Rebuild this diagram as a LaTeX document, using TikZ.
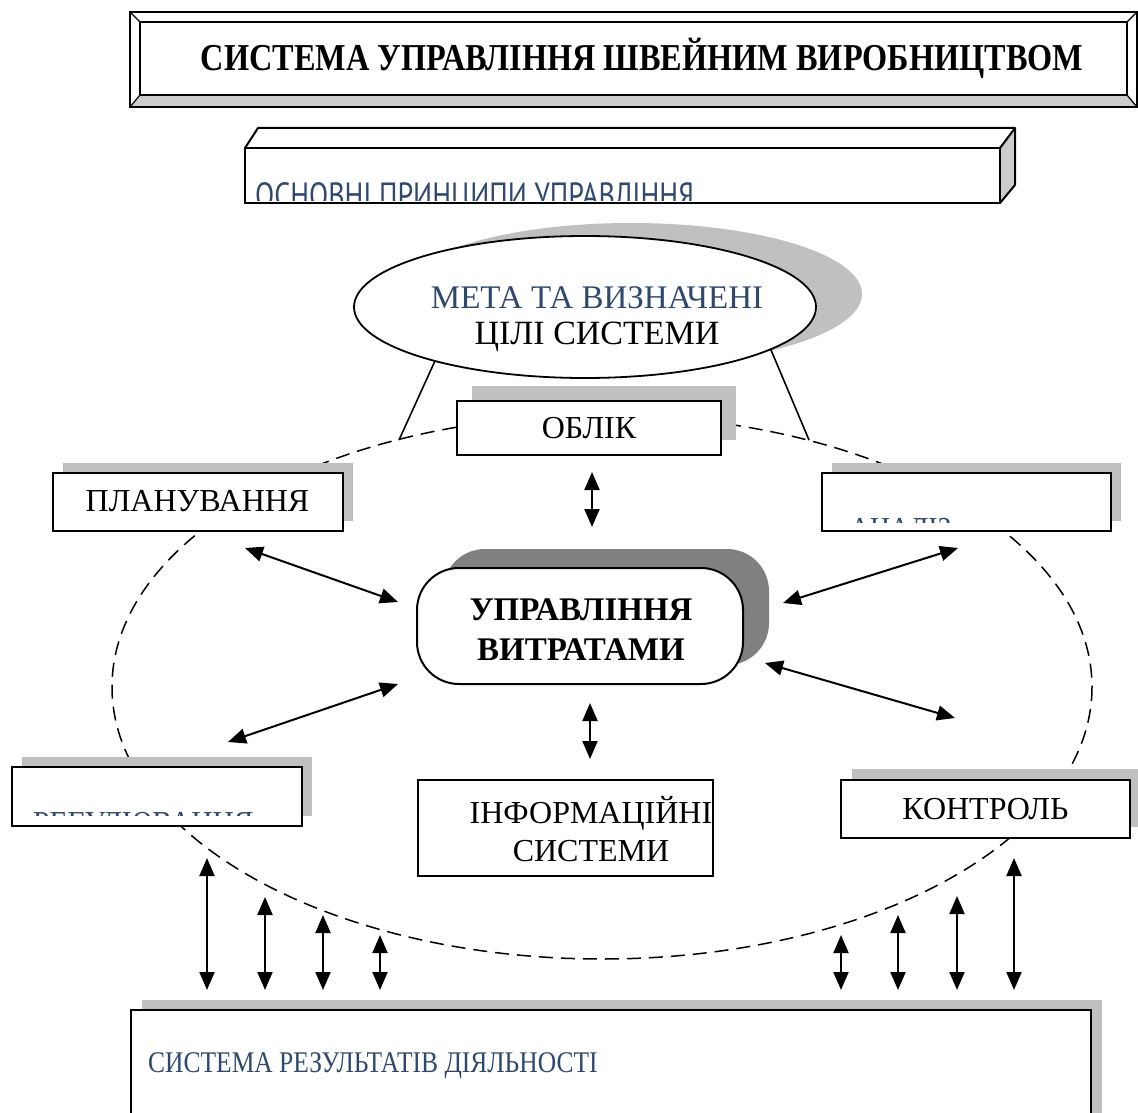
\documentclass[tikz,border=0pt]{standalone}
\usepackage{fontspec}
\usepackage{graphicx}
\setmainfont{Liberation Serif}
\newfontfamily\headsans{PT Sans}
\usetikzlibrary{arrows.meta,shapes.geometric,shadows}

\definecolor{headblue}{RGB}{46,72,110}
\definecolor{shadelight}{RGB}{192,192,192}
\definecolor{shadedark}{RGB}{128,128,128}
\definecolor{bevelgray}{RGB}{204,204,204}

\begin{document}
\begin{tikzpicture}[x=1pt,y=-1pt,
  big/.style={font=\fontsize{32pt}{38pt}\selectfont},
  boxed/.style={draw, line width=2pt, fill=white, inner sep=0pt, big, align=center},
  graybehind/.style={drop shadow={shadow xshift=#1, shadow yshift=#1, fill=shadelight, opacity=1}},
  dbl/.style={{Triangle[length=18pt,width=15pt]}-{Triangle[length=18pt,width=15pt]}, line width=2pt},
  orbit/.style={dash pattern=on 14pt off 8pt, line width=1.5pt},
  tie/.style={line width=1.6pt}
]
\useasboundingbox (0,0) rectangle (1138,1113);
\fill[white] (0,0) rectangle (1138,1113);

% ---- bevelled title frame ----
\coordinate (toTL) at (130,12);  \coordinate (toBR) at (1137,107);
\coordinate (tiTL) at (140,22);  \coordinate (tiBR) at (1127,95);
\fill[bevelgray] (130,107) -- (140,95) -- (1127,95) -- (1137,107) -- cycle;
\draw[line width=1.6pt] (toTL) rectangle (toBR);
\draw[line width=1.6pt] (tiTL) rectangle (tiBR);
\draw[line width=1.2pt] (130,12) -- (140,22) (1137,12) -- (1127,22)
      (130,107) -- (140,95) (1137,107) -- (1127,95);
\node[font=\fontsize{38pt}{42pt}\selectfont\bfseries, inner sep=0pt] (title) at (642,58)
  {\scalebox{0.85}[1]{СИСТЕМА УПРАВЛІННЯ ШВЕЙНИМ ВИРОБНИЦТВОМ}};

% ---- principles block (a flat cuboid) ----
\fill[white] (245,148) -- (258,128) -- (1015,128) -- (1000,148) -- cycle;
\fill[bevelgray] (1000,148) -- (1015,128) -- (1015,185) -- (1000,203) -- cycle;
\draw[line width=2pt, line join=round]
  (245,148) -- (258,128) -- (1015,128) -- (1015,185) -- (1000,203)
  (1000,148) -- (1015,128);
\draw[line width=2pt, fill=white] (245,148) rectangle (1000,203);
\begin{scope}
  \clip (246,149) rectangle (999,200);
  \node[anchor=base west, inner sep=0pt, text=headblue,
        font=\headsans\fontsize{35pt}{38pt}\selectfont] (principles) at (255,207)
    {\scalebox{0.8}[1]{ОСНОВНІ ПРИНЦИПИ УПРАВЛІННЯ}};
\end{scope}

% ---- dashed orbit of the management functions ----
\draw[orbit] (602,687) ellipse [x radius=490, y radius=272];

% ---- goals ellipse ----
\node[ellipse, draw, line width=1.8pt, fill=white, minimum width=462pt, minimum height=142pt,
      drop shadow={shadow xshift=46pt, shadow yshift=13pt, fill=shadelight, opacity=1}]
  (goal) at (585,307) {};
\node[font=\fontsize{33pt}{38pt}\selectfont, text=headblue, inner sep=0pt] (goalA) at (597,298) {МЕТА ТА ВИЗНАЧЕНІ};
\node[font=\fontsize{34pt}{38pt}\selectfont, inner sep=0pt] (goalB) at (597,337) {ЦІЛІ СИСТЕМИ};

\coordinate (tieL) at (399,440);
\coordinate (tieR) at (809,440);
\draw[tie] (goal.200) -- (tieL);
\draw[tie] (goal.347) -- (tieR);

% ---- function boxes ----
\node[boxed, minimum width=264pt, minimum height=54pt, graybehind=15pt] (oblik) at (589,428) {ОБЛІК};
\node[boxed, minimum width=290pt, minimum height=58pt, graybehind=10pt] (plan) at (197.5,501.5) {ПЛАНУВАННЯ};
\node[boxed, minimum width=289pt, minimum height=58pt, graybehind=10pt] (anal) at (966.5,502) {};
\begin{scope}
  \clip (823,474) rectangle (1110,522);
  \node[anchor=base west, inner sep=0pt, text=headblue, big] (analtext) at (850,539)
    {\scalebox{0.86}[1]{АНАЛІЗ}};
\end{scope}
\node[boxed, minimum width=290pt, minimum height=59pt, graybehind=10pt] (reg) at (157,796.5) {};
\begin{scope}
  \clip (13,768) rectangle (301,815);
  \node[anchor=base west, inner sep=0pt, text=headblue, big] (regtext) at (33,833)
    {\scalebox{0.92}[1]{РЕГУЛЮВАННЯ}};
\end{scope}
\node[boxed, minimum width=289pt, minimum height=58pt, graybehind=11pt] (ctrl) at (985.5,809) {КОНТРОЛЬ};
\node[boxed, minimum width=295pt, minimum height=96pt] (info) at (565.5,828) {};
\node[big, align=center, inner sep=0pt] (infotext) at (591,829)
  {ІНФОРМАЦІЙНІ\\[-0.1pt]СИСТЕМИ};

% ---- cost management core ----
\node[draw, line width=2pt, fill=white, rounded corners=42pt,
      minimum width=326pt, minimum height=116pt,
      drop shadow={shadow xshift=26pt, shadow yshift=19pt, fill=shadedark, opacity=1}]
  (core) at (580,626) {};
\node[align=center, inner sep=0pt, font=\fontsize{33pt}{40pt}\selectfont\bfseries]
  (coretext) at (581,630) {УПРАВЛІННЯ\\ВИТРАТАМИ};

% ---- results block ----
\node[draw, line width=2pt, fill=white, minimum width=960pt, minimum height=120pt,
      drop shadow={shadow xshift=11pt, shadow yshift=10pt, fill=shadelight, opacity=1}]
  (res) at (611,1070) {};
\node[anchor=base west, inner sep=0pt, text=headblue,
      font=\fontsize{30pt}{36pt}\selectfont] (restext) at (148,1072)
  {\scalebox{0.85}[1]{СИСТЕМА РЕЗУЛЬТАТІВ ДІЯЛЬНОСТІ}};

% ---- two-way links around the core ----
\coordinate (o1) at (592,472);  \coordinate (o2) at (592,527);
\coordinate (p1) at (245,548);  \coordinate (p2) at (398,602);
\coordinate (n1) at (783,603);  \coordinate (n2) at (958,548);
\coordinate (r1) at (228,742);  \coordinate (r2) at (398,684);
\coordinate (k1) at (765,663);  \coordinate (k2) at (955,718);
\coordinate (i1) at (590,703);  \coordinate (i2) at (590,759);
\draw[dbl] (o1) -- (o2);
\draw[dbl] (p1) -- (p2);
\draw[dbl] (n1) -- (n2);
\draw[dbl] (r1) -- (r2);
\draw[dbl] (k1) -- (k2);
\draw[dbl] (i1) -- (i2);

% ---- links to the results block ----
\foreach \x/\t [count=\i] in {207/858, 265/897, 323/915, 380/935, 841/935, 898/915, 957/896, 1014/858}{
  \coordinate (up\i) at (\x,\t);
  \coordinate (dn\i) at (\x,990);
  \draw[dbl] (up\i) -- (dn\i);
}
\end{tikzpicture}
\end{document}
